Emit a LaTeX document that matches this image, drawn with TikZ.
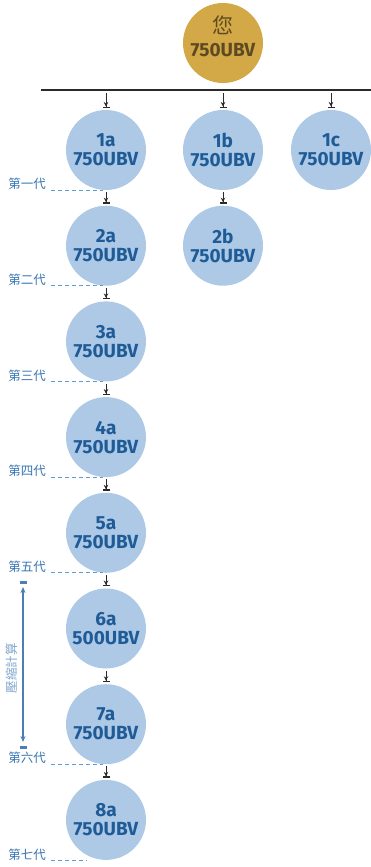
\documentclass[tikz,border=0pt]{standalone}
\usepackage{fontspec}
\setmainfont{Fira Sans}
\newfontfamily\cjk{Noto Sans CJK TC}
\usetikzlibrary{arrows.meta}
\definecolor{gold}{HTML}{D3A846}
\definecolor{goldtxt}{HTML}{5E4A22}
\definecolor{bluec}{HTML}{ADC9E6}
\definecolor{bluetxt}{HTML}{1E5B97}
\definecolor{gentxt}{HTML}{3575B3}
\definecolor{gendash}{HTML}{5B9DD6}
\definecolor{dark}{HTML}{2A2A2A}
\definecolor{comp}{HTML}{4A7FB5}
\definecolor{comptxt}{HTML}{7FA6CD}
\begin{document}
\begin{tikzpicture}[x=1pt,y=-1pt,
  person/.style={circle,fill=bluec,minimum size=80pt,inner sep=0pt,text=bluetxt,
    font=\bfseries\fontsize{19}{19}\selectfont,align=center},
  you/.style={circle,fill=gold,minimum size=80pt,inner sep=0pt},
  barrow/.style={draw=dark,line width=0.9pt,-{Stealth[length=4.5pt,width=4.5pt] Bar[width=7pt,line width=1.3pt]},shorten >=2pt,shorten <=2pt},
  gen/.style={anchor=east,text=gentxt,font=\cjk\fontsize{12.5}{12.5}\selectfont,inner sep=0pt},
  gdash/.style={draw=gendash,line width=1pt,dash pattern=on 4pt off 3pt}
]
\useasboundingbox (0,0) rectangle (371,867);
% top
\node[you] (you) at (223,43) {};
\node[text=goldtxt,font=\cjk\fontsize{21}{21}\selectfont] (youname) at (223,25) {您};
\node[text=goldtxt,font=\bfseries\fontsize{19}{19}\selectfont] (youval) at (223,50) {750UBV};
\coordinate (hl) at (41,90);
\coordinate (hr) at (371,90);
\draw[dark,line width=1.5pt] (hl) -- (hr);
% persons
\node[person] (p1a) at (106,150) {1a\\750UBV};
\node[person] (p1b) at (223,150) {1b\\750UBV};
\node[person] (p1c) at (331,150) {1c\\750UBV};
\node[person] (p2a) at (106,245.7) {2a\\750UBV};
\node[person] (p2b) at (223,245.7) {2b\\750UBV};
\node[person] (p3a) at (106,341.4) {3a\\750UBV};
\node[person] (p4a) at (106,437.1) {4a\\750UBV};
\node[person] (p5a) at (106,532.8) {5a\\750UBV};
\node[person] (p6a) at (106,628.5) {6a\\500UBV};
\node[person] (p7a) at (106,724.2) {7a\\750UBV};
\node[person] (p8a) at (106,819.9) {8a\\750UBV};
% arrows from line
\coordinate (t1a) at (106,91);
\coordinate (t1b) at (223,91);
\coordinate (t1c) at (331,91);
\draw[barrow] (t1a) -- (p1a.north);
\draw[barrow] (t1b) -- (p1b.north);
\draw[barrow] (t1c) -- (p1c.north);
\draw[barrow] (p1a.south) -- (p2a.north);
\draw[barrow] (p1b.south) -- (p2b.north);
\draw[barrow] (p2a.south) -- (p3a.north);
\draw[barrow] (p3a.south) -- (p4a.north);
\draw[barrow] (p4a.south) -- (p5a.north);
\draw[barrow] (p5a.south) -- (p6a.north);
\draw[barrow] (p6a.south) -- (p7a.north);
\draw[barrow] (p7a.south) -- (p8a.north);
% generation labels
\foreach \n/\lab/\y in {1/第一代/190, 2/第二代/285.7, 3/第三代/381.4, 4/第四代/477.1, 5/第五代/572.8, 6/第六代/764.2}{
  \node[gen] (g\n) at (46,\y-6) {\lab};
  \coordinate (d\n) at (103,\y);
  \draw[gdash] (51,\y) -- (d\n);
}
\node[gen] (g7) at (46,855) {第七代};
\coordinate (d7) at (87,860);
\draw[gdash] (51,860) -- (d7);
% compression
\coordinate (ct) at (23,587);
\coordinate (cb) at (23,742);
\draw[comp,line width=1.5pt,{Stealth[length=6pt,width=5pt]}-{Stealth[length=6pt,width=5pt]}] (ct) -- (cb);
\coordinate (cbt) at (23,582);
\coordinate (cbb) at (23,747);
\draw[comp,line width=3pt] ([xshift=-3.5pt]cbt) -- ([xshift=3.5pt]cbt);
\draw[comp,line width=3pt] ([xshift=-3.5pt]cbb) -- ([xshift=3.5pt]cbb);
\node[text=comptxt,font=\cjk\fontsize{12.5}{12.5}\selectfont,rotate=90] (comptext) at (12,668) {壓縮計算};
\end{tikzpicture}
\end{document}
